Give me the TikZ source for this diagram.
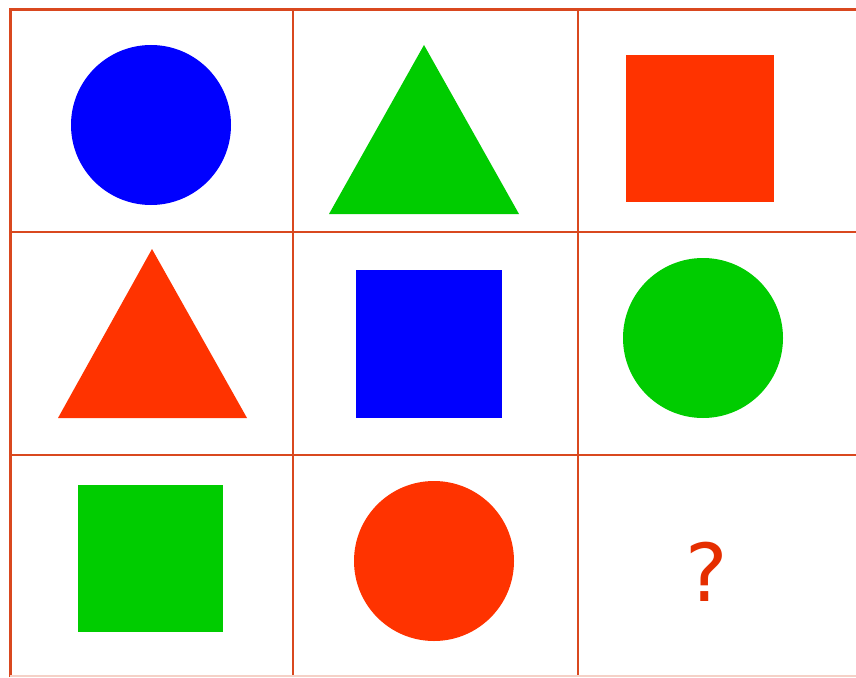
\documentclass[tikz,border=0pt]{standalone}
\usepackage{fontspec}
\setmainfont{DejaVu Sans}
\definecolor{gridred}{HTML}{D9481F}
\definecolor{shblue}{HTML}{0000FF}
\definecolor{shgreen}{HTML}{00CC00}
\definecolor{shred}{HTML}{FF3300}
\begin{document}
\begin{tikzpicture}[x=1pt,y=-1pt,
  gridline/.style={draw=gridred,line width=1.3pt},
  outerline/.style={draw=gridred,line width=3pt},
  shape/.style={draw=none}]
\useasboundingbox (0,0) rectangle (856,677);
\fill[white] (0,0) rectangle (856,677);
% grid
\draw[gridline] (293,10) -- (293,677);
\draw[gridline] (578,10) -- (578,677);
\draw[gridline] (10,232) -- (856,232);
\draw[gridline] (10,455) -- (856,455);
\draw[outerline] (10,677) -- (10,10) -- (856,10);
\draw[draw=gridred!25,line width=2pt] (10,676) -- (856,676);
% row 1
\fill[shblue] (151,125) circle (80);
\fill[shgreen] (424,45) -- (519,214) -- (329,214) -- cycle;
\fill[shred] (626,55) rectangle (774,202);
% row 2
\fill[shred] (152,249) -- (247,418) -- (58,418) -- cycle;
\fill[shblue] (356,270) rectangle (502,418);
\fill[shgreen] (703,338) circle (80);
% row 3
\fill[shgreen] (78,485) rectangle (223,632);
\fill[shred] (434,561) circle (80);
\node[text=shred!90!black,font=\fontsize{80}{80}\selectfont,inner sep=0pt] (q) at (707,572) {?};
\end{tikzpicture}
\end{document}
